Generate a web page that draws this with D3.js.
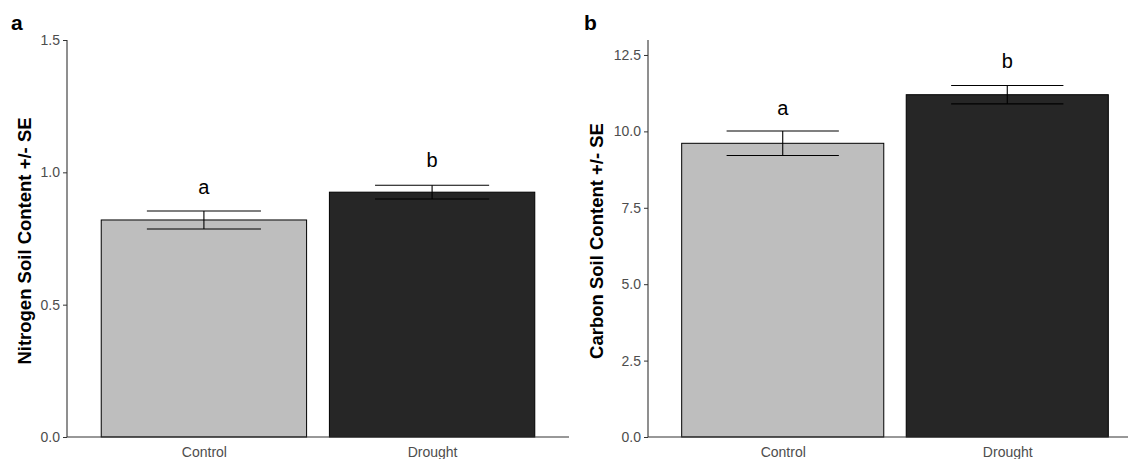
<!DOCTYPE html>
<html><head><meta charset="utf-8">
<script src="https://cdn.jsdelivr.net/npm/d3@7"></script>
<style>body{margin:0;background:#fff}svg{display:block}</style>
</head><body>
<svg id="c" width="1128" height="459"></svg>
<script>
const categories = ["Control", "Drought"];
const fills = ["#bebebe", "#262626"];
// Panel a: Nitrogen
const nMeans = [0.82, 0.925];
const nSE = [0.034, 0.026];
const nLetters = ["a", "b"];
const nLetterY = [0.943, 1.047];
const nTicks = [0.0, 0.5, 1.0, 1.5];
// Panel b: Carbon
const cMeans = [9.61, 11.2];
const cSE = [0.40, 0.30];
const cLetters = ["a", "b"];
const cLetterY = [10.78, 12.3];
const cTicks = [0.0, 2.5, 5.0, 7.5, 10.0, 12.5];

const svg = d3.select("#c");
const font = "Liberation Sans, Arial, sans-serif";

function panel(opt) {
  const g = svg.append("g");
  // emulate ggplot: 0.6 expansion each side, bar width 0.9, errorbar width 0.5
  const step = (opt.x1 - opt.x0) / 2.2;
  const cx = d3.scalePoint().domain(categories).range([opt.x0 + 0.6 * step, opt.x1 - 0.6 * step]);
  const y = d3.scaleLinear().domain([0, opt.ymax]).range([437, 40]);
  const bw = 0.9 * step, ew = 0.5 * step;

  g.selectAll("rect.bar").data(categories).join("rect")
    .attr("x", d => cx(d) - bw / 2).attr("width", bw)
    .attr("y", (d, i) => y(opt.means[i])).attr("height", (d, i) => y(0) - y(opt.means[i]))
    .attr("fill", (d, i) => fills[i]).attr("stroke", "#000").attr("stroke-width", 1);

  const eb = g.selectAll("g.eb").data(categories).join("g").attr("stroke", "#000").attr("stroke-width", 1.1);
  eb.append("line").attr("x1", d => cx(d)).attr("x2", d => cx(d))
    .attr("y1", (d, i) => y(opt.means[i] + opt.se[i])).attr("y2", (d, i) => y(opt.means[i] - opt.se[i]));
  eb.append("line").attr("x1", d => cx(d) - ew / 2).attr("x2", d => cx(d) + ew / 2)
    .attr("y1", (d, i) => y(opt.means[i] + opt.se[i])).attr("y2", (d, i) => y(opt.means[i] + opt.se[i]));
  eb.append("line").attr("x1", d => cx(d) - ew / 2).attr("x2", d => cx(d) + ew / 2)
    .attr("y1", (d, i) => y(opt.means[i] - opt.se[i])).attr("y2", (d, i) => y(opt.means[i] - opt.se[i]));

  g.selectAll("text.let").data(categories).join("text")
    .attr("x", d => cx(d)).attr("y", (d, i) => y(opt.letterY[i]))
    .attr("dy", "0.35em").attr("text-anchor", "middle")
    .attr("font-family", font).attr("font-size", 20).attr("fill", "#000")
    .text((d, i) => opt.letters[i]);

  // axes
  const ya = g.append("g").attr("transform", `translate(${opt.x0},0)`)
    .call(d3.axisLeft(y).tickValues(opt.ticks).tickFormat(d3.format(".1f")).tickSize(4).tickPadding(3));
  const xa = g.append("g").attr("transform", `translate(0,437)`)
    .call(d3.axisBottom(cx).tickSize(4).tickPadding(2));
  [ya, xa].forEach(a => {
    a.select(".domain").attr("stroke", "#333").attr("stroke-width", 1.1);
    a.selectAll(".tick line").attr("stroke", "#333");
    a.selectAll(".tick text").attr("fill", "#4d4d4d").attr("font-family", font).attr("font-size", 14);
  });
  ya.select(".domain").attr("d", `M-0,437V40`);
  xa.select(".domain").attr("d", `M${opt.x0},0H${opt.x1}`);
  xa.selectAll(".tick line").remove();
  xa.selectAll(".tick text").attr("dy", "0.71em").attr("y", 10);

  g.append("text").attr("transform", `translate(${opt.titleX},241) rotate(-90)`)
    .attr("text-anchor", "middle").attr("dy", "0.35em")
    .attr("font-family", font).attr("font-weight", "bold").attr("font-size", 18.5)
    .text(opt.ytitle);
  g.append("text").attr("x", opt.tagX).attr("y", 30)
    .attr("font-family", font).attr("font-weight", "bold").attr("font-size", 21)
    .text(opt.tag);
}

panel({x0: 67, x1: 569, ymax: 1.5, means: nMeans, se: nSE, letters: nLetters, letterY: nLetterY,
  ticks: nTicks, ytitle: "Nitrogen Soil Content +/- SE", titleX: 25, tag: "a", tagX: 11});
panel({x0: 648, x1: 1142, ymax: 12.99, means: cMeans, se: cSE, letters: cLetters, letterY: cLetterY,
  ticks: cTicks, ytitle: "Carbon Soil Content +/- SE", titleX: 597, tag: "b", tagX: 584});
</script>
</body></html>
